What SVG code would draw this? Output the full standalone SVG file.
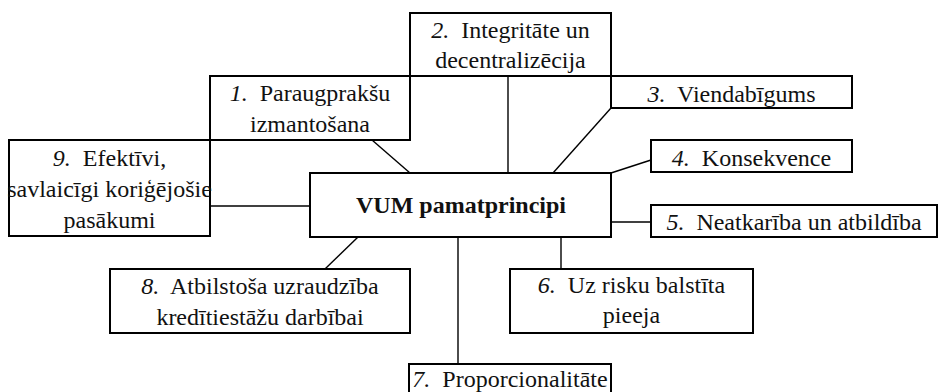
<svg xmlns="http://www.w3.org/2000/svg" width="939" height="392" viewBox="0 0 939 392">
<style>
.box{fill:#fff;stroke:#000;stroke-width:2}
text{font-family:'Liberation Serif','DejaVu Serif',serif;font-size:24px;fill:#111;text-anchor:middle}
.b{font-weight:bold}
.i{font-style:italic}
.c{stroke:#000;stroke-width:1.4;fill:none}
</style>
<rect width="939" height="392" fill="#fff"/>
<g id="connectors">
<line class="c" x1="372" y1="140" x2="410" y2="173"/>
<line class="c" x1="508" y1="76" x2="508" y2="173"/>
<line class="c" x1="611" y1="108" x2="553" y2="173"/>
<line class="c" x1="651" y1="160" x2="611" y2="173"/>
<line class="c" x1="611" y1="222" x2="651" y2="222"/>
<line class="c" x1="561" y1="237" x2="561" y2="269"/>
<line class="c" x1="458" y1="237" x2="458" y2="364"/>
<line class="c" x1="358" y1="237" x2="325" y2="269"/>
<line class="c" x1="210" y1="206" x2="310" y2="206"/>
</g>
<g id="n2">
<rect class="box" x="410" y="13" width="201" height="63"/>
<text x="510.5" y="38"><tspan class="i">2.</tspan>&#160; Integritāte un</text>
<text x="510.5" y="68">decentralizēcija</text>
</g>
<g id="n1">
<rect class="box" x="210" y="76" width="200" height="64"/>
<text x="310" y="101"><tspan class="i">1.</tspan>&#160; Paraugprakšu</text>
<text x="310" y="132">izmantošana</text>
</g>
<g id="n9">
<rect class="box" x="9" y="140" width="201" height="96"/>
<text x="109.5" y="166"><tspan class="i">9.</tspan>&#160; Efektīvi,</text>
<text x="109.5" y="197">savlaicīgi koriģējošie</text>
<text x="109.5" y="228">pasākumi</text>
</g>
<g id="center">
<rect class="box" x="310" y="173" width="301" height="64"/>
<text class="b" x="461" y="213">VUM pamatprincipi</text>
</g>
<g id="n3">
<rect class="box" x="611" y="76" width="241" height="32"/>
<text x="731.5" y="102"><tspan class="i">3.</tspan>&#160; Viendabīgums</text>
</g>
<g id="n4">
<rect class="box" x="651" y="140" width="201" height="32"/>
<text x="751.5" y="166"><tspan class="i">4.</tspan>&#160; Konsekvence</text>
</g>
<g id="n5">
<rect class="box" x="651" y="205" width="286" height="32"/>
<text x="794" y="230"><tspan class="i">5.</tspan>&#160; Neatkarība un atbildība</text>
</g>
<g id="n6">
<rect class="box" x="510" y="269" width="243" height="64"/>
<text x="631.5" y="293"><tspan class="i">6.</tspan>&#160; Uz risku balstīta</text>
<text x="631.5" y="323">pieeja</text>
</g>
<g id="n8">
<rect class="box" x="110" y="269" width="300" height="64"/>
<text x="260" y="294"><tspan class="i">8.</tspan>&#160; Atbilstoša uzraudzība</text>
<text x="260" y="325">kredītiestāžu darbībai</text>
</g>
<g id="n7">
<rect class="box" x="409" y="364" width="202" height="40"/>
<text x="510" y="387"><tspan class="i">7.</tspan>&#160; Proporcionalitāte</text>
</g>
</svg>
